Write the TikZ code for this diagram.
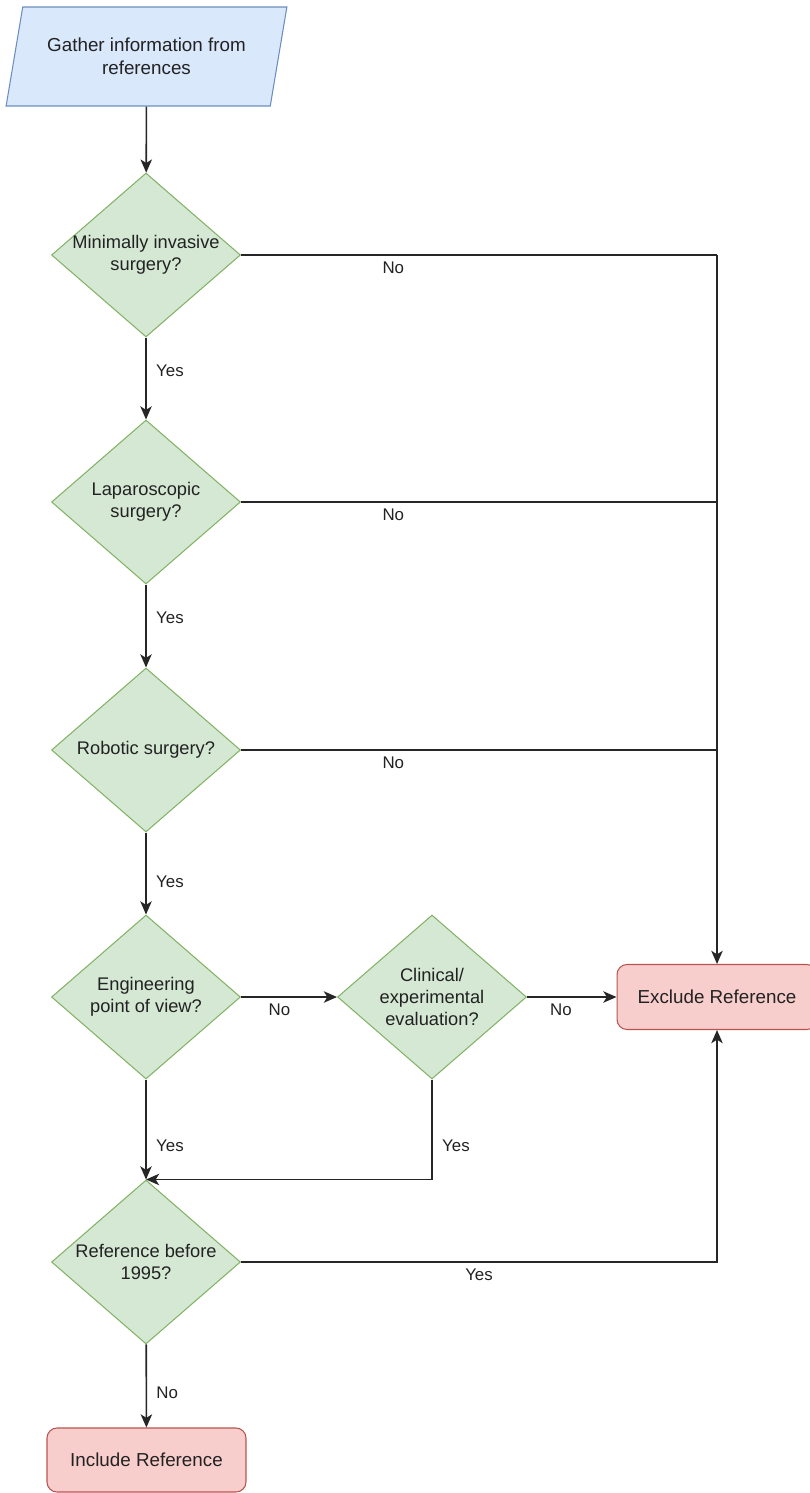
\documentclass[tikz,border=0pt]{standalone}
\usepackage{fontspec}
\setmainfont{Liberation Sans}
\usetikzlibrary{shapes.geometric,arrows.meta}
\definecolor{inputfill}{HTML}{DAE8FC}
\definecolor{inputline}{HTML}{6C8EBF}
\definecolor{decisionfill}{HTML}{D5E8D4}
\definecolor{decisionline}{HTML}{82B366}
\definecolor{endfill}{HTML}{F8CECC}
\definecolor{endline}{HTML}{B85450}
\definecolor{textcol}{HTML}{222222}

\begin{document}
\begin{tikzpicture}[x=0.02cm, y=-0.02cm,
    boxtext/.style={font=\fontsize{10.7}{13}\selectfont, text=textcol, align=center},
    inputbox/.style={trapezium, trapezium left angle=70, trapezium right angle=110,
        trapezium stretches=true, draw=inputline, fill=inputfill, line width=0.6pt,
        minimum width=5.62cm, minimum height=1.98cm, inner sep=0pt, boxtext},
    decision/.style={diamond, draw=decisionline, fill=decisionfill, line width=0.6pt,
        minimum width=3.78cm, minimum height=3.28cm, inner sep=0pt},
    qtext/.style={boxtext, font=\fontsize{10.4}{12.5}\selectfont},
    endbox/.style={rectangle, rounded corners=0.2cm, draw=endline, fill=endfill,
        line width=0.6pt, minimum width=4cm, minimum height=1.3cm, boxtext},
    conn/.style={line width=0.9pt, draw=black!85},
    arr/.style={conn, -{Stealth[length=7.5pt, width=6.5pt, inset=2pt]}},
    lab/.style={font=\fontsize{9.6}{11}\selectfont, text=textcol}]
\useasboundingbox (0,0) rectangle (809,1493);

% nodes
\node[inputbox] (gather) at (146.5,56.5) {Gather information from\\references};
\node[decision, label={[qtext]center:Minimally invasive\\surgery?}] (d1) at (146,255) {};
\node[decision, label={[qtext]center:Laparoscopic\\surgery?}] (d2) at (146,502) {};
\node[decision, label={[qtext]center:Robotic surgery?}] (d3) at (146,750) {};
\node[decision, label={[qtext]center:Engineering\\point of view?}] (d4) at (146,997) {};
\node[decision, label={[qtext]center:Clinical/\\experimental\\evaluation?}] (clin) at (432,997) {};
\node[decision, label={[qtext]center:Reference before\\1995?}] (d5) at (146,1262) {};
\node[endbox] (exc) at (717,997) {Exclude Reference};
\node[endbox, minimum width=3.98cm, minimum height=1.28cm] (inc) at (146.5,1460) {Include Reference};

% main line
\draw[arr] (gather) -- (d1);
\draw[arr] (d1) -- node[lab, right, pos=0.4, xshift=2pt]{Yes} (d2);
\draw[arr] (d2) -- node[lab, right, pos=0.4, xshift=2pt]{Yes} (d3);
\draw[arr] (d3) -- node[lab, right, pos=0.6, xshift=2pt]{Yes} (d4);
\draw[arr] (d4) -- node[lab, right, pos=0.66, xshift=2pt]{Yes} (d5);
\draw[arr] (d5) -- node[lab, right, pos=0.58, xshift=2pt]{No} (inc);

% exclusion branches
\foreach \d in {d1,d2,d3}{
    \draw[conn] (\d.east) -- node[lab, below, pos=0.32]{No} (\d.east -| exc.north);
}
\draw[arr] (d1.east -| exc.north) -- (exc.north);
\draw[arr] (d4) -- node[lab, below, pos=0.4]{No} (clin);
\draw[arr] (clin) -- node[lab, below, pos=0.38]{No} (exc);
\draw[arr] (clin.south) |- node[lab, right, pos=0.33, xshift=2pt]{Yes} (d5.north);
\draw[arr] (d5.east) -| node[lab, below, pos=0.25]{Yes} (exc.south);
\end{tikzpicture}
\end{document}
